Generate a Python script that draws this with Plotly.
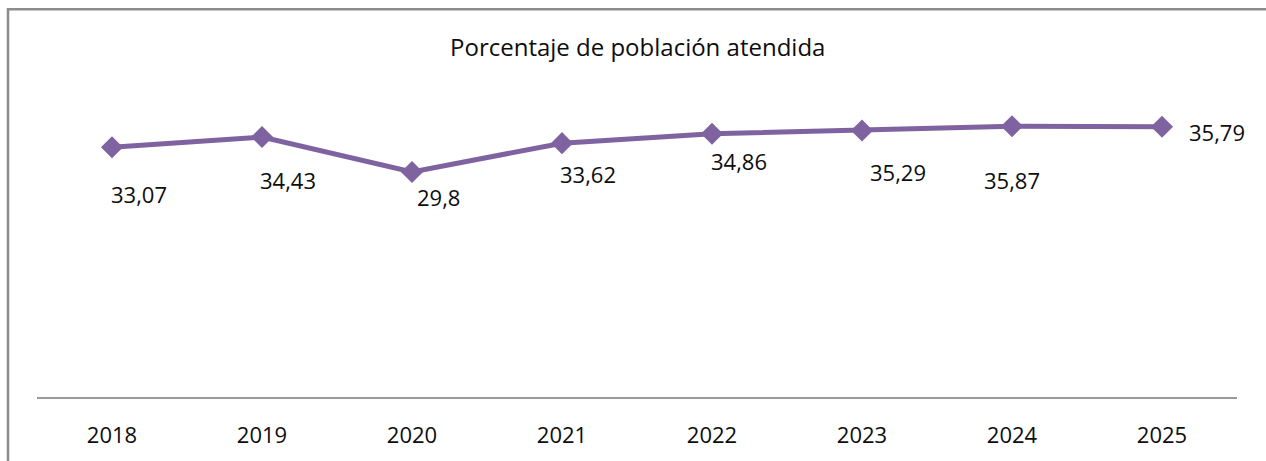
import plotly.graph_objects as go

years = ["2018", "2019", "2020", "2021", "2022", "2023", "2024", "2025"]
values = [33.07, 34.43, 29.8, 33.62, 34.86, 35.29, 35.87, 35.79]
labels = ["33,07", "34,43", "29,8", "33,62", "34,86", "35,29", "35,87", "35,79"]
title_text = "Porcentaje de población atendida"

# label offsets in pixels (layout only)
label_dx = [27, 26, 26, 26, 27, 36, 0, 55]
label_dy = [-47, -43, -25, -31, -27, -41, -54, -5]

FONT = "Open Sans"
PURPLE = "#7F63A1"

fig = go.Figure()
fig.add_trace(go.Scatter(
    x=years, y=values, mode="lines+markers",
    line=dict(color=PURPLE, width=5),
    marker=dict(symbol="diamond", size=17, color=PURPLE),
    hoverinfo="skip", showlegend=False,
))

for i, (yv, t, dx, dy) in enumerate(zip(values, labels, label_dx, label_dy)):
    fig.add_annotation(x=i, y=yv, xref="x", yref="y", text=t, showarrow=False,
                       xshift=dx, yshift=dy,
                       font=dict(family=FONT, size=22, color="#0d0d0d"))

fig.add_annotation(text=title_text, xref="paper", yref="paper",
                   x=(637 - 37) / 1200, y=(401 - 46) / 306,
                   showarrow=False, xanchor="center", yanchor="middle",
                   font=dict(family=FONT, size=24, color="#0d0d0d"))

# outer chart border
fig.add_shape(type="rect", xref="paper", yref="paper",
              x0=(8 - 37) / 1200, x1=(1275 - 37) / 1200,
              y0=(401 - 475) / 306, y1=(401 - 8) / 306,
              line=dict(color="#8c8c8c", width=2.5), layer="below")

fig.update_layout(
    width=1266, height=461,
    margin=dict(l=37, r=29, t=95, b=52),
    paper_bgcolor="white", plot_bgcolor="white",
    font=dict(family=FONT, size=22, color="#0d0d0d"),
    xaxis=dict(type="category", range=[-0.5, 7.5], showgrid=False,
               showline=True, linecolor="#9a9a9a", linewidth=2,
               ticks="", ticklabelstandoff=18, zeroline=False,
               tickfont=dict(family=FONT, size=22, color="#0d0d0d"),
               fixedrange=True),
    yaxis=dict(range=[0, 40], visible=False, showgrid=False, zeroline=False,
               fixedrange=True),
)

fig.write_html("out.html", config={"displayModeBar": False},
               post_script="document.body.style.margin='0';document.body.style.padding='0';")
